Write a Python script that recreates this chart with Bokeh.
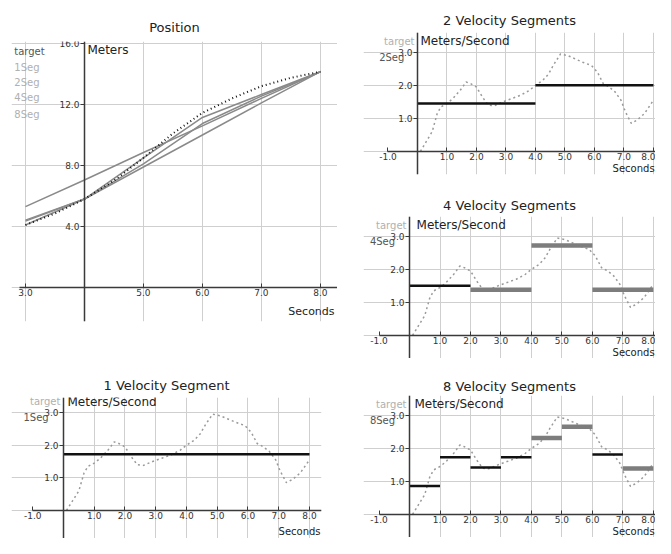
from bokeh.plotting import figure
from bokeh.models import FixedTicker, Label, Range1d, ColumnDataSource
from bokeh.layouts import row, column
from bokeh.embed import file_html
from bokeh.resources import INLINE

# ---------------- data ----------------
# Position panel
pos_t = [3, 4, 5, 6, 7, 8]
pos_1seg = [5.3, 7.05, 8.85, 10.6, 12.4, 14.15]
pos_2seg = [4.35, 5.8, 7.9, 10.0, 12.1, 14.15]
pos_4seg = [4.42, 5.8, 8.5, 11.15, 12.65, 14.15]
pos_8seg = [4.1, 5.8, 8.1, 10.75, 12.55, 14.15]
pos_target_t = [3, 3.5, 4, 4.5, 5, 5.5, 6, 6.5, 7, 7.5, 8]
pos_target = [4.1, 4.85, 5.8, 7.0, 8.5, 10.1, 11.45, 12.4, 13.2, 13.75, 14.15]
pos_xticks = [3, 5, 6, 7, 8]
pos_xtick_labels = ["3.0", "5.0", "6.0", "7.0", "8.0"]
pos_yticks = [4, 8, 12, 16]
pos_ytick_labels = ["4.0", "8.0", "12.0", "16.0"]
pos_legend = ["target", "1Seg", "2Seg", "4Seg", "8Seg"]

# Velocity panels: target velocity
vel_t = [0.1, 0.3, 0.5, 0.67, 0.8, 1.0, 1.2, 1.45, 1.65, 1.8, 2.0, 2.2, 2.4, 2.6,
         2.9, 3.2, 3.5, 3.8, 4.0, 4.25, 4.45, 4.6, 4.85, 5.1, 5.35, 5.6, 5.9, 6.1,
         6.3, 6.5, 6.7, 6.9, 7.05, 7.25, 7.45, 7.7, 8.0]
vel_target = [0.0, 0.3, 0.6, 1.15, 1.35, 1.45, 1.6, 1.85, 2.1, 2.05, 1.95, 1.65, 1.4, 1.38,
              1.5, 1.6, 1.7, 1.85, 2.0, 2.15, 2.35, 2.6, 2.95, 2.9, 2.8, 2.7, 2.6, 2.4,
              2.05, 1.95, 1.8, 1.55, 1.2, 0.85, 0.95, 1.15, 1.55]

seg1_start = [0]
seg1_end = [8]
seg1_vel = [1.72]

seg2_start = [0, 4]
seg2_end = [4, 8]
seg2_vel = [1.45, 2.0]

seg4_start = [0, 2, 4, 6]
seg4_end = [2, 4, 6, 8]
seg4_vel = [1.5, 1.38, 2.72, 1.38]

seg8_start = [0, 1, 2, 3, 4, 5, 6, 7]
seg8_end = [1, 2, 3, 4, 5, 6, 7, 8]
seg8_vel = [0.86, 1.73, 1.42, 1.73, 2.31, 2.65, 1.81, 1.39]

vel_xticks = [-1, 1, 2, 3, 4, 5, 6, 7, 8]
vel_xtick_labels = ["-1.0", "1.0", "2.0", "3.0", "4.0", "5.0", "6.0", "7.0", "8.0"]
vel_yticks = [1, 2, 3]
vel_ytick_labels = ["1.0", "2.0", "3.0"]

# ---------------- style ----------------
FONT = "DejaVu Sans"
GRID = "#cfcfcf"
AXIS = "#3a3a3a"
DARK_SEG = "#111111"
GRAY_SEG = "#7d7d7d"
seg_emphasis = {  # which segments are drawn dark (True) or gray (False)
    1: [True],
    2: [True, True],
    4: [True, False, False, False],
    8: [True, True, True, True, False, False, True, False],
}


def base_fig(fw, fh, mbl, mbr, mbt, mbb, xr, yr, title, xgrid, ygrid,
             xticks, xlabels, yticks, ylabels, yaxis_at, xbounds, standoff):
    p = figure(frame_width=fw, frame_height=fh,
               x_range=Range1d(*xr), y_range=Range1d(*yr),
               output_backend="svg", toolbar_location=None, title=title,
               min_border_left=mbl, min_border_right=mbr,
               min_border_top=mbt, min_border_bottom=mbb)
    p.outline_line_color = None
    p.background_fill_color = "white"
    p.border_fill_color = "white"
    p.title.align = "center"
    p.title.text_font = FONT
    p.title.text_font_size = "13px"
    p.title.text_font_style = "normal"
    p.title.text_color = "#222222"
    p.title.standoff = standoff
    p.xgrid.ticker = FixedTicker(ticks=xgrid)
    p.ygrid.ticker = FixedTicker(ticks=ygrid)
    p.ygrid.bounds = xbounds
    p.grid.grid_line_color = GRID
    p.grid.grid_line_width = 1
    for ax in (p.xaxis[0], p.yaxis[0]):
        ax.axis_line_color = AXIS
        ax.axis_line_width = 1.5
        ax.major_tick_line_color = AXIS
        ax.minor_tick_line_color = None
        ax.major_label_text_font = FONT
        ax.major_label_text_font_size = "9px"
        ax.major_label_text_color = "#333333"
    p.xaxis.fixed_location = 0
    p.yaxis.fixed_location = yaxis_at
    p.xaxis.bounds = xbounds
    p.xaxis.ticker = FixedTicker(ticks=xticks)
    p.xaxis.major_label_overrides = {t: s for t, s in zip(xticks, xlabels)}
    p.xaxis.major_tick_in = 4
    p.xaxis.major_tick_out = 0
    p.xaxis.major_label_standoff = 2
    p.yaxis.ticker = FixedTicker(ticks=yticks)
    p.yaxis.major_label_overrides = {t: s for t, s in zip(yticks, ylabels)}
    p.yaxis.major_tick_in = 0
    p.yaxis.major_tick_out = 4
    p.yaxis.major_label_standoff = 1
    return p


def add_label(p, x, y, text, color="#222222", size="11px", align="left"):
    p.add_layout(Label(x=x, y=y, text=text, text_font=FONT, text_font_size=size,
                       text_color=color, text_align=align, text_baseline="middle"))


# ---------------- Position ----------------
pos = base_fig(326, 280, 11, 0, 41, 20, (2.763, 8.29), (-2.23, 16.13), "Position",
               [3, 4, 5, 6, 7, 8], [0, 4, 8, 12, 16],
               pos_xticks, pos_xtick_labels, pos_yticks, pos_ytick_labels,
               4, (2.9, 8.29), 14)
for ys in (pos_1seg, pos_2seg, pos_4seg, pos_8seg):
    pos.line(pos_t, ys, line_color="#8a8a8a", line_width=1.5)
pos.line(pos_target_t, pos_target, line_color="#111111", line_width=2, line_dash="1 3")
add_label(pos, 2.81, 15.48, pos_legend[0], color="#555555", size="10px")
for i, name in enumerate(pos_legend[1:]):
    add_label(pos, 2.81, [14.43, 13.44, 12.46, 11.34][i], name, color="#b0b0b0", size="10px")
add_label(pos, 4.05, 15.6, "Meters", size="12px")
add_label(pos, 8.24, -1.57, "Seconds", align="right")


# ---------------- Velocity panels ----------------
def vel_fig(n, title, fw, fh, mbl, mbr, mbt, mbb, xr, yr, starts, ends, vels,
            unit_x, sec_y, standoff):
    p = base_fig(fw, fh, mbl, mbr, mbt, mbb, xr, yr, title,
                 [0, 1, 2, 3, 4, 5, 6, 7, 8], [0, 1, 2, 3],
                 vel_xticks, vel_xtick_labels, vel_yticks, vel_ytick_labels,
                 0, (-1.0, xr[1]), standoff)
    p.line(vel_t, vel_target, line_color="#9a9a9a", line_width=1.5, line_dash="2 3")
    emph = seg_emphasis[n]
    src = ColumnDataSource(dict(
        x0=starts, x1=ends, v=vels,
        color=[DARK_SEG if e else GRAY_SEG for e in emph],
        width=[2.5 if e else 4.5 for e in emph]))
    p.segment(x0="x0", y0="v", x1="x1", y1="v", source=src,
              line_color="color", line_width="width")
    add_label(p, -0.1, 3.33, "target", color="#b0b0b0", size="10px", align="right")
    add_label(p, -1.3, 2.84, "%dSeg" % n, color="#555555", size="10px")
    add_label(p, unit_x, 3.33, "Meters/Second", size="12px")
    add_label(p, xr[1] - 0.03, sec_y, "Seconds", size="10px", align="right")
    return p


v1 = vel_fig(1, "1 Velocity Segment", 310, 141, 11, 16, 56, 0,
             (-1.69, 8.39), (-0.86, 3.46), seg1_start, seg1_end, seg1_vel, 0.13, -0.64, 10)
v2 = vel_fig(2, "2 Velocity Segments", 292, 142, 26, 0, 32, 8,
             (-1.83, 8.07), (-0.7, 3.6), seg2_start, seg2_end, seg2_vel, 0.1, -0.52, 10)
v4 = vel_fig(4, "4 Velocity Segments", 292, 142, 26, 0, 34, 0,
             (-1.51, 8.07), (-0.7, 3.6), seg4_start, seg4_end, seg4_vel, 0.23, -0.52, 8)
v8 = vel_fig(8, "8 Velocity Segments", 292, 142, 26, 0, 37, 0,
             (-1.51, 8.07), (-0.7, 3.6), seg8_start, seg8_end, seg8_vel, 0.16, -0.52, 3)

layout = row(column(pos, v1), column(v2, v4, v8))

with open("out.html", "w") as f:
    f.write(file_html(layout, INLINE))
